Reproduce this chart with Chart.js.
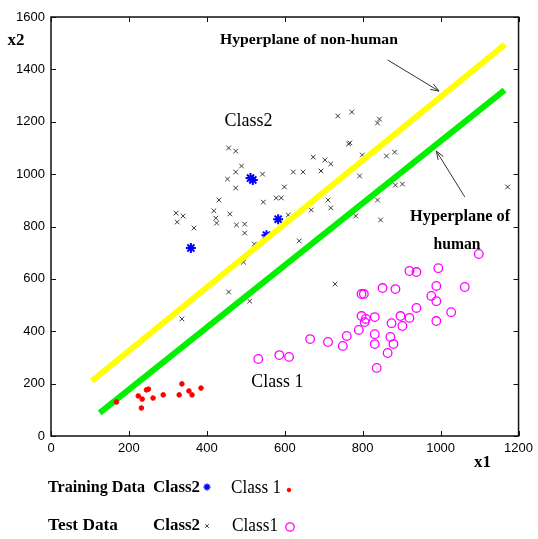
<!DOCTYPE html>
<html><head><meta charset="utf-8">
<script src="https://cdn.jsdelivr.net/npm/chart.js@4/dist/chart.umd.min.js"></script>
<style>html,body{margin:0;padding:0;background:#fff;}#wrap{width:538px;height:539px;}</style>
</head><body><div id="wrap"><canvas id="c" width="538" height="539"></canvas></div>
<script>
// ---------- data ----------
const xTicks = [0, 200, 400, 600, 800, 1000, 1200];
const yTicks = [0, 200, 400, 600, 800, 1000, 1200, 1400, 1600];

const nonHumanHyperplane = [[105, 210], [1165, 1495]];
const humanHyperplane = [[125, 88], [1164, 1321]];

const trainClass2 = [[512, 985], [518, 978], [583, 828], [359, 718], [553, 767]];
const trainClass1 = [[168,130],[224,153],[234,141],[245,176],[250,179],[232,107],[262,145],[288,157],[329,157],[336,199],[354,172],[362,157],[385,183]];
const testClass2 = [[456,1100],[474,1088],[489,1031],[474,1008],[453,981],[543,1000],[474,947],[431,901],[599,951],[545,893],[578,909],[591,909],[321,851],[339,840],[324,817],[418,860],[423,832],[425,813],[459,848],[367,794],[476,806],[497,809],[497,775],[522,733],[494,664],[456,550],[510,515],[336,447],
[736,1222],[772,1237],[838,1195],[843,1210],[767,1119],[764,1115],[673,1065],[703,1054],[718,1039],[622,1008],[647,1008],[693,1012],[861,1069],[882,1084],[792,993],[799,1073],[711,901],[718,871],[668,863],[884,958],[902,962],[838,901],[782,840],[846,825],[1172,951],[637,745],[729,580],[609,844]];
const testClass1 = [[532,294],[586,309],[611,302],[665,370],[711,359],[749,344],[759,382],[790,405],[797,458],[808,447],[805,435],[797,542],[803,542],[831,454],[831,389],[831,351],[836,260],[864,317],[871,378],[879,351],[874,431],[851,565],[884,561],[897,458],[902,420],[920,451],[938,489],[920,630],[938,626],[994,641],[989,573],[976,535],[989,515],[989,439],[1027,473],[1062,569],[1098,695]];

// annotation text (data coordinates of centre)
const notes = [
  {text: 'Hyperplane of non-human', x: 662, y: 1512, bold: true, size: 15, width: 178},
  {text: 'Class2', x: 507, y: 1203, bold: false, size: 18, width: 48},
  {text: 'Hyperplane of', x: 1050, y: 836, bold: true, size: 16, width: 100},
  {text: 'human', x: 1042, y: 729, bold: true, size: 16, width: 47},
  {text: 'Class 1', x: 581, y: 206, bold: false, size: 18, width: 52}
];
const arrows = [
  {from: [864, 1436], to: [996, 1317]},
  {from: [1062, 913], to: [989, 1088]}
];

const toXY = arr => arr.map(([x, y]) => ({x, y}));
const SERIF = '"Liberation Serif", "Times New Roman", serif';

function fitText(ctx, txt, x, y, font, width, align) {
  ctx.save();
  ctx.font = font;
  const w = ctx.measureText(txt).width;
  const s = width / w;
  ctx.translate(x, y);
  ctx.scale(s, 1);
  ctx.textBaseline = 'middle';
  ctx.textAlign = align || 'left';
  ctx.fillText(txt, 0, 0);
  ctx.restore();
}

const decor = {
  id: 'decor',
  afterDraw(chart) {
    const ctx = chart.ctx, a = chart.chartArea;
    const xs = chart.scales.x, ys = chart.scales.y;
    ctx.save();
    // frame
    ctx.strokeStyle = '#111';
    ctx.lineWidth = 1.5;
    ctx.strokeRect(a.left, a.top, a.right - a.left, a.bottom - a.top);
    // inward ticks
    ctx.lineWidth = 1;
    ctx.beginPath();
    xTicks.forEach(v => {
      const px = Math.round(xs.getPixelForValue(v)) + 0.5;
      ctx.moveTo(px, a.bottom); ctx.lineTo(px, a.bottom - 5);
      ctx.moveTo(px, a.top); ctx.lineTo(px, a.top + 5);
    });
    yTicks.forEach(v => {
      const py = Math.round(ys.getPixelForValue(v)) + 0.5;
      ctx.moveTo(a.left, py); ctx.lineTo(a.left + 5, py);
      ctx.moveTo(a.right, py); ctx.lineTo(a.right - 5, py);
    });
    ctx.stroke();
    // annotations
    ctx.fillStyle = '#000';
    notes.forEach(n => {
      fitText(ctx, n.text, xs.getPixelForValue(n.x), ys.getPixelForValue(n.y),
        (n.bold ? 'bold ' : '') + n.size + 'px ' + SERIF, n.width, 'center');
    });
    // arrows
    ctx.strokeStyle = '#333';
    ctx.lineWidth = 1;
    arrows.forEach(ar => {
      const x1 = xs.getPixelForValue(ar.from[0]), y1 = ys.getPixelForValue(ar.from[1]);
      const x2 = xs.getPixelForValue(ar.to[0]), y2 = ys.getPixelForValue(ar.to[1]);
      const ang = Math.atan2(y2 - y1, x2 - x1);
      ctx.beginPath();
      ctx.moveTo(x1, y1); ctx.lineTo(x2, y2);
      [0.35, -0.35].forEach(d => {
        ctx.moveTo(x2, y2);
        ctx.lineTo(x2 - 9 * Math.cos(ang + d), y2 - 9 * Math.sin(ang + d));
      });
      ctx.stroke();
    });
    // axis names
    fitText(ctx, 'x2', a.left - 35, a.top + 24, 'bold 16px ' + SERIF, 17, 'center');
    fitText(ctx, 'x1', a.right - 36, a.bottom + 27, 'bold 16px ' + SERIF, 17, 'center');
    // bottom key
    const r1 = a.bottom + 52, r2 = a.bottom + 90;
    fitText(ctx, 'Training Data', 48, r1, 'bold 17px ' + SERIF, 97, 'left');
    fitText(ctx, 'Class2', 153, r1, 'bold 17px ' + SERIF, 47, 'left');
    fitText(ctx, 'Class 1', 231, r1, '18px ' + SERIF, 50, 'left');
    fitText(ctx, 'Test Data', 48, r2, 'bold 17px ' + SERIF, 70, 'left');
    fitText(ctx, 'Class2', 153, r2, 'bold 17px ' + SERIF, 47, 'left');
    fitText(ctx, 'Class1', 232, r2, '18px ' + SERIF, 46, 'left');
    const dp = Chart.helpers.drawPoint;
    ctx.strokeStyle = '#0000ff'; ctx.fillStyle = '#0000ff'; ctx.lineWidth = 1.5;
    dp(ctx, {pointStyle: 'star', radius: 3.5, rotation: 0, borderWidth: 1.5}, 207, r1 - 1);
    ctx.strokeStyle = '#ff0000'; ctx.fillStyle = '#ff0000'; ctx.lineWidth = 1;
    dp(ctx, {pointStyle: 'circle', radius: 1.8, rotation: 0, borderWidth: 1}, 289, r1 + 2);
    ctx.strokeStyle = '#444'; ctx.lineWidth = 1;
    dp(ctx, {pointStyle: 'crossRot', radius: 2.5, rotation: 0, borderWidth: 1}, 207, r2);
    ctx.strokeStyle = '#ff00ff'; ctx.fillStyle = 'rgba(0,0,0,0)'; ctx.lineWidth = 1.3;
    dp(ctx, {pointStyle: 'circle', radius: 4.2, rotation: 0, borderWidth: 1.3}, 290, r2 + 1);
    ctx.restore();
  }
};

const plainTick = v => String(v);

new Chart(document.getElementById('c'), {
  type: 'scatter',
  data: {
    datasets: [
      {label: 'Training Class1', data: toXY(trainClass1), pointStyle: 'circle', pointRadius: 2.3, borderColor: '#ff0000', backgroundColor: '#ff0000', pointBorderWidth: 1},
      {label: 'Hyperplane of non-human', data: toXY(nonHumanHyperplane), showLine: true, borderColor: '#ffff00', borderWidth: 6, pointRadius: 0, borderCapStyle: 'butt'},
      {label: 'Hyperplane of human', data: toXY(humanHyperplane), showLine: true, borderColor: '#00f000', borderWidth: 6, pointRadius: 0, borderCapStyle: 'butt'},
      {label: 'Training Class2', data: toXY(trainClass2), pointStyle: 'star', pointRadius: 5, borderColor: '#0000ff', backgroundColor: '#0000ff', pointBorderWidth: 2},
      {label: 'Test Class2', data: toXY(testClass2), pointStyle: 'crossRot', pointRadius: 3.3, borderColor: '#3a3a3a', backgroundColor: '#3a3a3a', pointBorderWidth: 1},
      {label: 'Test Class1', data: toXY(testClass1), pointStyle: 'circle', pointRadius: 4.3, borderColor: '#ff00ff', backgroundColor: 'rgba(0,0,0,0)', pointBorderWidth: 1.3}
    ]
  },
  options: {
    responsive: false, animation: false, devicePixelRatio: 1,
    layout: {padding: {left: 0, top: 17, right: 16, bottom: 81}},
    plugins: {legend: {display: false}, tooltip: {enabled: false}},
    scales: {
      x: {
        type: 'linear', min: 0, max: 1200,
        afterBuildTicks: s => { s.ticks = xTicks.map(v => ({value: v})); },
        afterFit: s => { s.height = 22; },
        ticks: {callback: plainTick, color: '#000', padding: 5, maxRotation: 0, autoSkip: false, font: {family: '"Liberation Sans", Arial, sans-serif', size: 13}},
        grid: {display: false, drawTicks: false},
        border: {display: false}
      },
      y: {
        type: 'linear', min: 0, max: 1600,
        afterBuildTicks: s => { s.ticks = yTicks.map(v => ({value: v})); },
        afterFit: s => { s.width = 51; },
        ticks: {callback: plainTick, color: '#000', padding: 6, autoSkip: false, font: {family: '"Liberation Sans", Arial, sans-serif', size: 13}},
        grid: {display: false, drawTicks: false},
        border: {display: false}
      }
    }
  },
  plugins: [decor]
});
</script>
</body></html>
